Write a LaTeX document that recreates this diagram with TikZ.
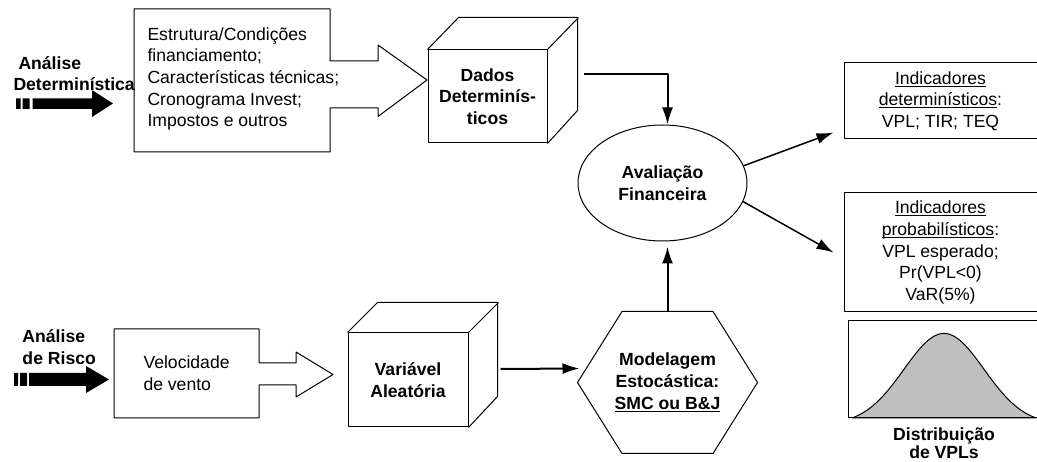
\documentclass[tikz,border=0pt]{standalone}
\usepackage{fontspec}
\setmainfont{Liberation Sans}
\usepackage{tikz}
\usetikzlibrary{arrows.meta,shapes}
\newcommand{\fsz}{\fontsize{17.6pt}{21.6pt}\selectfont}
\newcommand{\sublinha}[1]{\setbox0\hbox{#1}\rlap{\rule[-2.6pt]{\wd0}{1.1pt}}\box0}

\begin{document}
\begin{tikzpicture}[x=1pt,y=-1pt,>={Latex[length=17pt,width=11pt]},line join=bevel,line width=1pt,
  every node/.style={font=\fsz,inner sep=0pt},
  bloco/.style={draw,rectangle},
  negrito/.style={align=center,font=\fsz\bfseries},
  seta/.style={->,line width=2pt}]
\useasboundingbox (0,0) rectangle (1037,462);
%%
% analise deterministica
\fill (16,98.5) rectangle (20.5,109) (22.5,98.5) rectangle (29.5,109);
\fill (32.5,98.5) -- (92,98.5) -- (92,90) -- (113,103.5) -- (92,117) -- (92,109) -- (32.5,109) -- cycle;
\node (AD) at (13,73.5) [anchor=west,align=left,font=\fsz\bfseries] {\hspace*{5pt}Análise\\Determinística};
\draw (134,9) -- (330,9) -- (330,61) -- (378,61) -- (378,45) -- (427,80) -- (378,116.5) -- (378,108) -- (330,108) -- (330,152) -- (134,152) -- cycle;
\node (est) at (147,79) [anchor=west,align=left] {Estrutura/Condições\\financiamento;\\Características técnicas;\\Cronograma Invest;\\Impostos e outros};
\node (dd) at (487.5,96.5) [bloco,negrito,minimum width=119pt,minimum height=93pt] {Dados\\Determinís-\\ticos};
\draw (dd.north west) -- ++(31,-32) -- ++(119,0) -- ++(0,93) -- (dd.south east) (dd.north east) -- ++(31,-32);
%
% avaliacao e indicadores
\node (av) at (662.5,183) [draw,ellipse,negrito,minimum width=169pt,minimum height=116pt] {Avaliação\\Financeira};
\draw [seta] ([xshift=36pt,yshift=-25pt]dd.north east) -| ([xshift=5pt]av.north);
\node (ind1) at (940.5,101) [bloco,align=center,minimum width=193pt,minimum height=76pt] {\sublinha{Indicadores}\\\sublinha{determinísticos}:\\VPL; TIR; TEQ};
\node (ind2) at (940.5,252.5) [bloco,align=center,minimum width=193pt,minimum height=119pt] {\sublinha{Indicadores}\\\sublinha{probabilísticos}:\\VPL esperado;\\Pr(VPL<0)\\VaR(5\%)};
\draw [->,line width=1.5pt] (av.12) -- ([xshift=-10pt,yshift=7pt]ind1.south west);
\draw [->,line width=1.5pt] (av.-13) -- ([xshift=-10pt]ind2.west);
% distribuicao
\draw [fill=black!25] plot [domain=852:1036,samples=80,smooth] (\x,{418-91*(exp(((\x-944)^2)/(-3200))-0.071)}) -- cycle;
\node (dist) at (942.5,369.5) [bloco,minimum width=189pt,minimum height=97pt] {};
\node (distlbl) at (944,443.5) [negrito,font=\fontsize{17.6pt}{18pt}\selectfont\bfseries] {Distribuição\\de VPLs};
%
% analise de risco
\fill (14,373) rectangle (18,386) (20,373) rectangle (27,386);
\fill (29,373) -- (86,373) -- (86,366) -- (109,379.5) -- (86,393) -- (86,386) -- (29,386) -- cycle;
\node (AR) at (22,347) [anchor=west,align=left,font=\fsz\bfseries] {Análise\\de Risco};
\draw (114,329) -- (259,329) -- (259,363) -- (296,363) -- (296,352) -- (333,374.5) -- (296,397) -- (296,385) -- (259,385) -- (259,418) -- (114,418) -- cycle;
\node (vel) at (143,373.5) [anchor=west,align=left] {Velocidade\\de vento};
\node (va) at (408,380) [bloco,negrito,minimum width=120pt,minimum height=94pt] {Variável\\Aleatória};
\draw (va.north west) -- ++(30,-30) -- ++(120,0) -- ++(0,94) -- (va.south east) (va.north east) -- ++(30,-30);
\node (mod) at (667.5,382.5) [negrito,minimum width=179pt,minimum height=141pt] {Modelagem\\Estocástica:\\\sublinha{SMC ou B\&J}};
\draw (mod.west) -- ([xshift=44.5pt]mod.north west) -- ([xshift=-44.5pt]mod.north east) -- (mod.east) -- ([xshift=-44.5pt]mod.south east) -- ([xshift=44.5pt]mod.south west) -- cycle;
\draw [seta] ([xshift=32pt,yshift=11pt]va.east) -- ([xshift=2pt,yshift=14pt]mod.west);
\draw [seta] (mod.north) -- ([xshift=5pt,yshift=-5pt]av.south);
%
\end{tikzpicture}
\end{document}
